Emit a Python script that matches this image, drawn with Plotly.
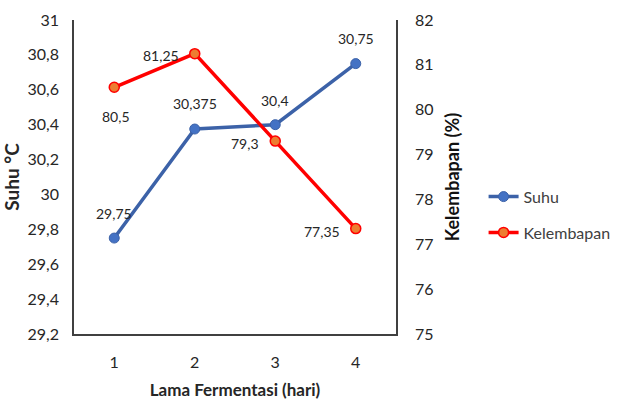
import plotly.graph_objects as go

# Fermentation time (days)
hari = [1, 2, 3, 4]
# Temperature (°C)
suhu = [29.75, 30.375, 30.4, 30.75]
# Humidity (%)
kelembapan = [80.5, 81.25, 79.3, 77.35]

# label offsets in pixels (dx, dy) relative to each point
suhu_off = [(0, 25), (0, 26), (0, 24), (0, 25)]
kelem_off = [(2, -29), (-34, -2), (-30, -2), (-34, -3)]


def fmt(v):
    return str(v).replace(".", ",")


FONT = "Lato, 'Open Sans', sans-serif"
TXT = "#262626"

fig = go.Figure()
fig.add_trace(go.Scatter(
    x=hari, y=suhu, name="Suhu", mode="lines+markers",
    line=dict(color="#3C62A8", width=3.5),
    marker=dict(color="#4472C4", size=10, line=dict(color="#3C62A8", width=1)),
    legendgroup="a",
))
fig.add_trace(go.Scatter(
    x=hari, y=kelembapan, name="Kelembapan", mode="lines+markers",
    yaxis="y2",
    line=dict(color="#FF0000", width=3.5),
    marker=dict(color="#ED7D31", size=10, line=dict(color="#FF0000", width=1.5)),
    legendgroup="b",
))

annotations = []
for x, v, (dx, dy) in zip(hari, suhu, suhu_off):
    annotations.append(dict(x=x, y=v, xref="x", yref="y", text=fmt(v),
                            showarrow=False, xshift=dx, yshift=dy,
                            font=dict(family=FONT, size=14, color=TXT)))
for x, v, (dx, dy) in zip(hari, kelembapan, kelem_off):
    annotations.append(dict(x=x, y=v, xref="x", yref="y2", text=fmt(v),
                            showarrow=False, xshift=dx, yshift=dy,
                            font=dict(family=FONT, size=14, color=TXT)))

fig.update_layout(
    width=619, height=405,
    margin=dict(l=74, r=223, t=20, b=71, autoexpand=False),
    paper_bgcolor="white", plot_bgcolor="white",
    separators=",.",
    font=dict(family=FONT, size=16, color=TXT),
    annotations=annotations,
    xaxis=dict(
        range=[0.5, 4.5], tickmode="array", tickvals=hari,
        ticktext=[str(h) for h in hari],
        showgrid=False, zeroline=False,
        showline=True, linecolor="#404040", linewidth=1.5,
        ticks="outside", ticklen=13, tickcolor="rgba(0,0,0,0)",
        tickfont=dict(size=16),
        title=dict(text="<b>Lama Fermentasi (hari)</b>", standoff=14,
                   font=dict(size=17, color=TXT)),
    ),
    yaxis=dict(
        range=[29.2, 31], dtick=0.2, tick0=29.2,
        showgrid=False, zeroline=False,
        showline=True, linecolor="#404040", linewidth=1.5,
        ticks="outside", ticklen=10, tickcolor="rgba(0,0,0,0)",
        tickfont=dict(size=16),
        title=dict(text="<b>Suhu °C</b>", standoff=6,
                   font=dict(size=19, color=TXT)),
    ),
    yaxis2=dict(
        range=[75, 82], dtick=1, overlaying="y", side="right",
        showgrid=False, zeroline=False,
        showline=True, linecolor="#404040", linewidth=1.5,
        ticks="outside", ticklen=14, tickcolor="rgba(0,0,0,0)",
        tickfont=dict(size=16),
        title=dict(text="<b>Kelembapan (%)</b>", standoff=14,
                   font=dict(size=18, color="#111111")),
    ),
    legend=dict(
        x=1.272, y=0.38, xref="paper", yref="paper",
        xanchor="left", yanchor="middle",
        font=dict(size=16, color="#404040"),
        tracegroupgap=12, itemwidth=30,
        bgcolor="rgba(0,0,0,0)",
    ),
)

fig.write_html("out.html")
